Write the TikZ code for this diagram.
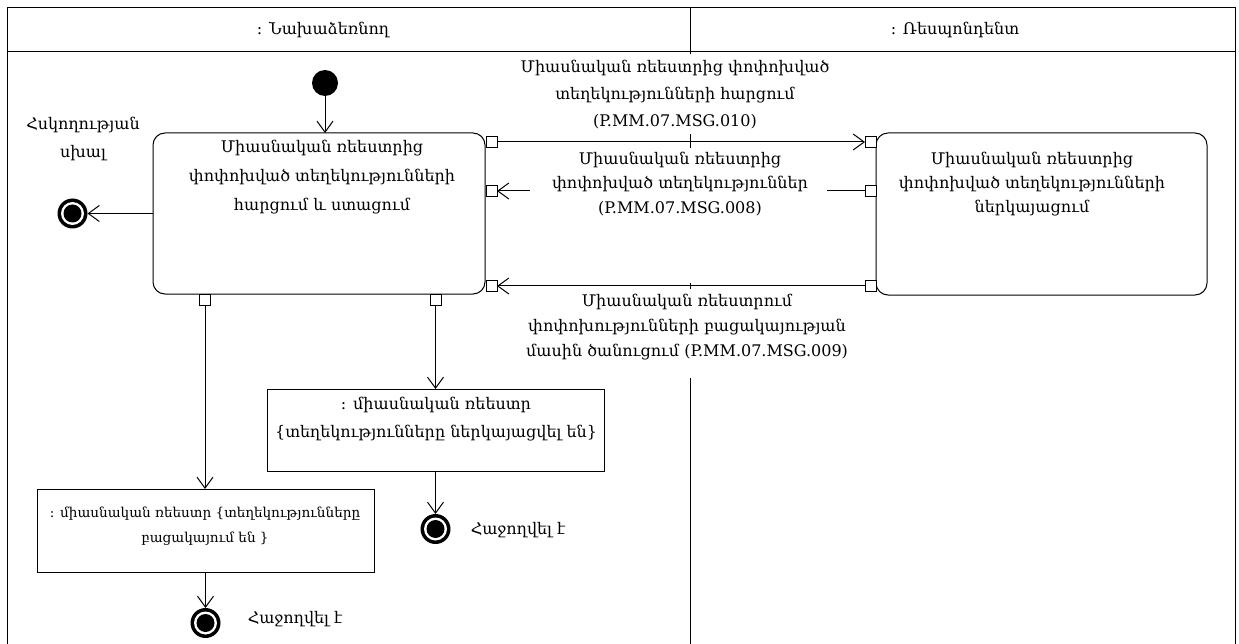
\documentclass[tikz,border=0pt]{standalone}
\usepackage{fontspec}
\setmainfont{DejaVu Serif}
\usetikzlibrary{arrows.meta}
\begin{document}
\begin{tikzpicture}[x=1pt,y=-1pt,
  every node/.style={inner sep=0pt, outer sep=0pt},
  txt/.style={align=center, font=\fontsize{16}{27}\selectfont},
  txtsm/.style={align=center, font=\fontsize{13.6}{25}\selectfont},
  act/.style={draw, rounded corners=12pt, line width=1pt},
  obj/.style={draw, line width=1pt},
  pin/.style={draw, fill=white, minimum size=11pt, line width=0.8pt},
  flow/.style={-{Straight Barb[length=11pt,width=16pt]}, line width=1pt},
  lane/.style={line width=1pt},
  initial/.style={circle, fill=black, minimum size=26pt},
  final/.style={circle, fill=black, minimum size=30pt,
    path picture={
      \fill[white] (path picture bounding box.center) circle (11.5pt);
      \fill[black] (path picture bounding box.center) circle (9pt);}},
]
\useasboundingbox (0,0) rectangle (1239,644);

% swimlanes
\draw[lane] (7,644) -- (7,8) -- (1235,8) -- (1235,644);
\draw[lane] (7,52) -- (1235,52);
\draw[lane] (690,8) -- (690,644);
\node[txt] (laneI) at (323,30) {: Նախաձեռնող};
\node[txt] (laneR) at (955,30) {: Ռեսպոնդենտ};

% actions
\node[act, minimum width=332pt, minimum height=161pt] (A) at (319,213.5) {};
\node[txt, font=\fontsize{16}{29}\selectfont] (At) at (322,177) {Միասնական ռեեստրից\\փոփոխված տեղեկությունների\\հարցում և ստացում};
\node[act, minimum width=331pt, minimum height=162pt] (B) at (1041.5,214) {};
\node[txt, font=\fontsize{16}{24}\selectfont] (Bt) at (1032,184) {Միասնական ռեեստրից\\փոփոխված տեղեկությունների\\ներկայացում};

% object nodes
\node[obj, minimum width=337pt, minimum height=82pt] (C) at (435.5,430) {};
\node[txt, font=\fontsize{16}{28}\selectfont] (Ct) at (436,419) {: միասնական ռեեստր\\\{տեղեկությունները ներկայացվել են\}};
\node[obj, minimum width=337pt, minimum height=83pt] (D) at (205.5,530.5) {};
\node[txtsm] (Dt) at (205,526.5) {: միասնական ռեեստր \{տեղեկությունները\\բացակայում են \}};

% initial and final nodes
\node[initial] (init) at (325,83) {};
\node[final] (fE) at (72.5,213.5) {};
\node[final] (fC) at (435.5,529) {};
\node[final] (fD) at (205.5,623) {};
\node[txt, font=\fontsize{16}{28}\selectfont] (fEt) at (83,139) {Հսկողության\\սխալ};
\node[txt] (fCt) at (518,530) {Հաջողվել է};
\node[txt] (fDt) at (295,619) {Հաջողվել է};

% pins
\node[pin] (pA1) at (491.5,142) {};
\node[pin] (pA2) at (491.5,191) {};
\node[pin] (pA3) at (491.5,286) {};
\node[pin] (pB1) at (870.5,142) {};
\node[pin] (pB2) at (870.5,191) {};
\node[pin] (pB3) at (870.5,286) {};
\node[pin] (pA4) at (205,300) {};
\node[pin] (pA5) at (435.5,300) {};

% control and object flows
\draw[flow] (init) -- (init |- A.north);
\draw[flow] (A.west) -- (fE);
\draw[flow] (pA4) -- (pA4 |- D.north);
\draw[flow] (pA5) -- (pA5 |- C.north);
\draw[flow] (C) -- (fC);
\draw[flow] (D) -- (fD);

% messages between the lanes
\draw[flow] (pA1) -- (pB1);
\draw[flow] (pB2) -- (pA2);
\draw[flow] (pB3) -- (pA3);

% label backgrounds
\fill[white] (520,54) rectangle (835,134);
\fill[white] (530,148) rectangle (827,283);
\fill[white] (515,289) rectangle (865,378);

\node[txt] (m1) at (675,95) {Միասնական ռեեստրից փոփոխված\\տեղեկությունների հարցում\\(P.MM.07.MSG.010)};
\node[txt, font=\fontsize{16}{24.5}\selectfont] (m2) at (680,184) {Միասնական ռեեստրից\\փոփոխված տեղեկություններ\\(P.MM.07.MSG.008)};
\node[txt, font=\fontsize{16}{25}\selectfont] (m3) at (687,327) {Միասնական ռեեստրում\\փոփոխությունների բացակայության\\մասին ծանուցում (P.MM.07.MSG.009)};
\end{tikzpicture}
\end{document}
